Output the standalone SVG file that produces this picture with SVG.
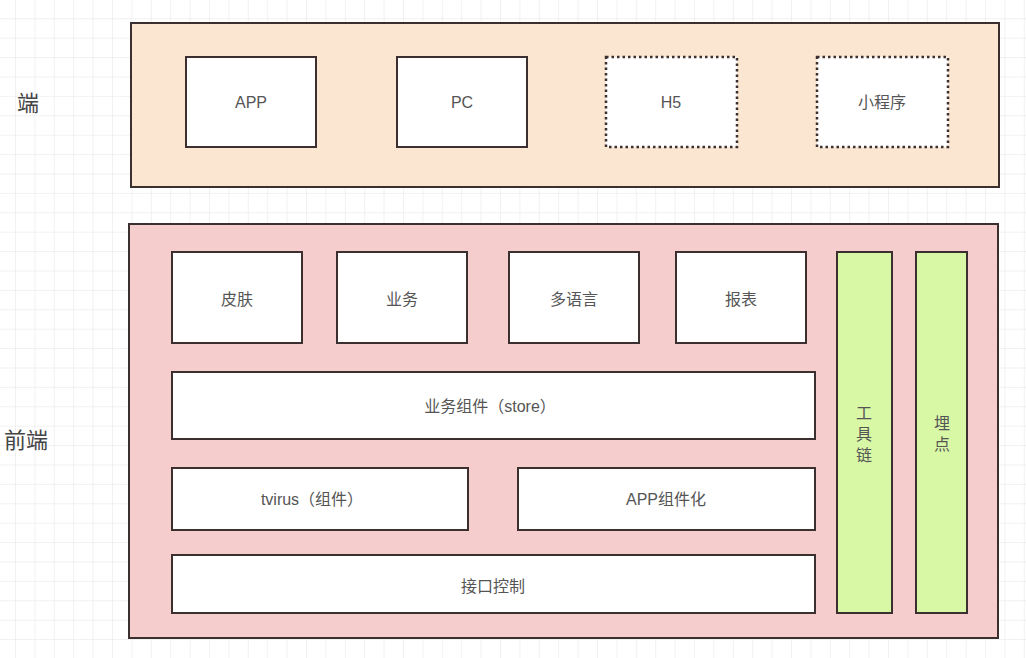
<svg xmlns="http://www.w3.org/2000/svg" width="1026" height="658" viewBox="0 0 1026 658">
<style>
.box{stroke:#3b2f2f;stroke-width:2}
.w{fill:#ffffff}
.dot{fill:#ffffff;stroke:#3b2f2f;stroke-width:2.5;stroke-dasharray:2.5 3}
.t{font-family:"Liberation Sans","Noto Sans CJK SC",sans-serif;font-size:16px;fill:#555555;text-anchor:middle;dominant-baseline:central}
.lab{font-family:"Liberation Sans","Noto Sans CJK SC",sans-serif;font-size:22px;fill:#444444;text-anchor:middle;dominant-baseline:central}
</style>
<defs>
<pattern id="grid" x="15" y="18.3" width="19.4" height="19.4" patternUnits="userSpaceOnUse">
<path d="M0 0V19.4M0 0H19.4" stroke="#e4e4e4" stroke-width="1" fill="none"/>
</pattern>
</defs>
<rect width="1026" height="658" fill="#ffffff"/>
<rect width="1026" height="658" fill="url(#grid)"/>
<g id="label-duan"><text class="lab" x="28" y="103">端</text></g>
<g id="label-qianduan"><text class="lab" x="26" y="440">前端</text></g>
<g id="group-duan">
<rect class="box" x="131" y="23" width="868" height="164" fill="#fbe6d2"/>
</g>
<g id="node-app"><rect class="box w" x="186" y="57" width="130" height="90"/><text class="t" x="251" y="102">APP</text></g>
<g id="node-pc"><rect class="box w" x="397" y="57" width="130" height="90"/><text class="t" x="462" y="102">PC</text></g>
<g id="node-h5"><rect class="dot" x="606" y="57" width="131" height="90"/><text class="t" x="671" y="102">H5</text></g>
<g id="node-mini"><rect class="dot" x="817" y="57" width="131" height="90"/><text class="t" x="882" y="102">小程序</text></g>
<g id="group-qianduan">
<rect class="box" x="129" y="224" width="869" height="414" fill="#f5cdcd"/>
</g>
<g id="node-skin"><rect class="box w" x="172" y="252" width="130" height="91"/><text class="t" x="237" y="299">皮肤</text></g>
<g id="node-biz"><rect class="box w" x="337" y="252" width="130" height="91"/><text class="t" x="402" y="299">业务</text></g>
<g id="node-i18n"><rect class="box w" x="509" y="252" width="130" height="91"/><text class="t" x="574" y="299">多语言</text></g>
<g id="node-report"><rect class="box w" x="676" y="252" width="130" height="91"/><text class="t" x="741" y="299">报表</text></g>
<g id="node-store"><rect class="box w" x="172" y="372" width="643" height="67"/><text class="t" x="490" y="406">业务组件（store）</text></g>
<g id="node-tvirus"><rect class="box w" x="172" y="468" width="296" height="62"/><text class="t" x="312" y="499">tvirus（组件）</text></g>
<g id="node-appcomp"><rect class="box w" x="518" y="468" width="297" height="62"/><text class="t" x="666" y="499">APP组件化</text></g>
<g id="node-api"><rect class="box w" x="172" y="555" width="643" height="58"/><text class="t" x="493" y="586">接口控制</text></g>
<g id="node-toolchain"><rect class="box" x="837" y="252" width="55" height="361" fill="#d8f8a6"/>
<text class="t" x="864" y="413">工</text><text class="t" x="864" y="434">具</text><text class="t" x="864" y="455">链</text></g>
<g id="node-track"><rect class="box" x="916" y="252" width="51" height="361" fill="#d8f8a6"/>
<text class="t" x="942" y="423">埋</text><text class="t" x="942" y="444">点</text></g>
<g id="connectors"></g>
</svg>
